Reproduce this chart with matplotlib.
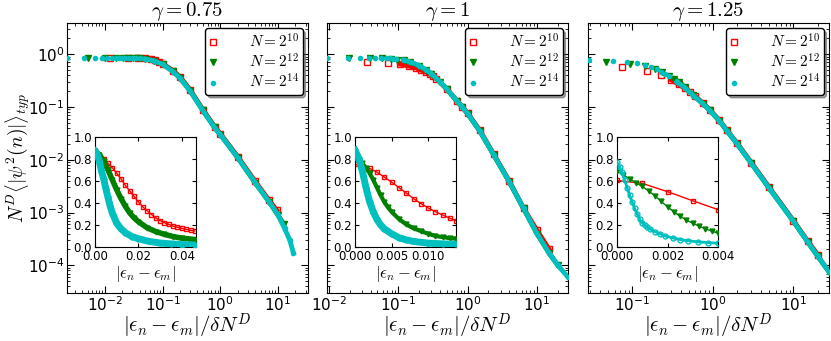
import numpy as np
import matplotlib
matplotlib.use("Agg")
import matplotlib.pyplot as plt

plt.rcParams['mathtext.fontset'] = 'cm'
plt.rcParams['font.family'] = 'DejaVu Sans'

gammas = ['0.75', '1', '1.25']
labels = [r'$N=2^{10}$', r'$N=2^{12}$', r'$N=2^{14}$']

# ---- main panels: |e_n - e_m| / dN^D  vs  N^D <|psi^2|>_typ ----
# gamma = 0.75
g075_red_x = [0.0124, 0.0248, 0.0372, 0.0496, 0.062, 0.0744, 0.0868, 0.1, 0.15, 0.2, 0.3, 0.5, 0.8, 1.0, 2.0, 4.0, 7.0, 9.5]
g075_red_y = [0.85, 0.85, 0.84, 0.83, 0.80, 0.77, 0.72, 0.66, 0.49, 0.37, 0.21, 0.088, 0.042, 0.031, 0.0115, 0.0039, 0.0017, 0.0011]
g075_green_x = [0.0051, 0.0102, 0.0153, 0.0204, 0.0255, 0.0306, 0.0357, 0.0408, 0.05, 0.07, 0.1, 0.15, 0.2, 0.3, 0.5, 0.8, 1.0, 2.0, 4.0, 7.0, 10.0, 12.5]
g075_green_y = [0.86, 0.86, 0.86, 0.85, 0.85, 0.84, 0.84, 0.83, 0.81, 0.75, 0.65, 0.48, 0.36, 0.205, 0.086, 0.041, 0.030, 0.011, 0.0037, 0.0016, 0.0009, 0.0006]
g075_cyan_x = [0.0022, 0.0044, 0.0066, 0.0088, 0.011, 0.0132, 0.0154, 0.0176, 0.0198, 0.022, 0.0264, 0.0308, 0.0352, 0.04, 0.05, 0.07, 0.1, 0.15, 0.2, 0.3, 0.5, 0.8, 1.0, 2.0, 4.0, 7.0, 10.0, 13.0, 16.0, 18.5]
g075_cyan_y = [0.86, 0.86, 0.86, 0.86, 0.86, 0.86, 0.86, 0.86, 0.855, 0.855, 0.85, 0.85, 0.84, 0.83, 0.81, 0.75, 0.64, 0.47, 0.35, 0.2, 0.085, 0.04, 0.03, 0.011, 0.0037, 0.0016, 0.0009, 0.0005, 0.0003, 0.00017]

# gamma = 1
g1_red_x = [0.0355, 0.071, 0.1065, 0.142, 0.1775, 0.213, 0.2485, 0.284, 0.3195, 0.355, 0.5, 0.7, 0.84, 1.0, 1.5, 2.37, 4.0, 6.4, 10.0, 15.0]
g1_red_y = [0.716, 0.686, 0.647, 0.60, 0.552, 0.50, 0.46, 0.42, 0.38, 0.345, 0.22, 0.13, 0.10, 0.076, 0.036, 0.0128, 0.0039, 0.0012, 0.00046, 0.0002]
g1_green_x = [0.0194, 0.0388, 0.0582, 0.0776, 0.097, 0.12, 0.15, 0.2, 0.25, 0.3, 0.4, 0.5, 0.7, 0.84, 1.0, 1.5, 2.37, 4.0, 6.4, 10.0, 15.0, 20.0]
g1_green_y = [0.85, 0.84, 0.83, 0.81, 0.79, 0.76, 0.70, 0.60, 0.50, 0.42, 0.30, 0.22, 0.13, 0.10, 0.075, 0.035, 0.0125, 0.0038, 0.0012, 0.0004, 0.00017, 0.0001]
g1_cyan_x = [0.0094, 0.0188, 0.0282, 0.0376, 0.047, 0.0564, 0.0658, 0.0752, 0.0846, 0.094, 0.12, 0.15, 0.2, 0.25, 0.3, 0.4, 0.5, 0.7, 0.84, 1.0, 1.5, 2.37, 4.0, 6.4, 10.0, 15.0, 20.0, 28.0]
g1_cyan_y = [0.86, 0.86, 0.86, 0.855, 0.85, 0.845, 0.84, 0.83, 0.82, 0.81, 0.77, 0.71, 0.61, 0.51, 0.43, 0.30, 0.22, 0.13, 0.10, 0.075, 0.035, 0.0125, 0.0038, 0.0012, 0.0004, 0.00017, 0.0001, 0.00006]

# gamma = 1.25
g125_red_x = [0.075, 0.15, 0.225, 0.3, 0.375, 0.45, 0.525, 0.6, 0.75, 0.92, 1.2, 1.5, 2.0, 3.0, 5.0, 10.0, 15.0, 20.0]
g125_red_y = [0.58, 0.48, 0.40, 0.33, 0.27, 0.224, 0.19, 0.16, 0.118, 0.087, 0.056, 0.036, 0.0205, 0.0088, 0.003, 0.0007, 0.00029, 0.00016]
g125_green_x = [0.047, 0.094, 0.141, 0.188, 0.235, 0.282, 0.329, 0.376, 0.45, 0.57, 0.75, 0.92, 1.2, 1.5, 2.0, 3.0, 5.0, 10.0, 15.0, 20.0, 27.7]
g125_green_y = [0.70, 0.64, 0.59, 0.52, 0.45, 0.39, 0.34, 0.30, 0.235, 0.167, 0.116, 0.086, 0.055, 0.035, 0.02, 0.0086, 0.0029, 0.00069, 0.00028, 0.00015, 0.000076]
g125_cyan_x = [0.0285, 0.057, 0.0855, 0.114, 0.1425, 0.171, 0.1995, 0.228, 0.2565, 0.285, 0.356, 0.45, 0.57, 0.75, 0.92, 1.2, 1.5, 2.0, 3.0, 5.0, 10.0, 15.0, 20.0, 27.7]
g125_cyan_y = [0.76, 0.74, 0.70, 0.67, 0.62, 0.57, 0.52, 0.46, 0.42, 0.38, 0.30, 0.23, 0.165, 0.115, 0.085, 0.055, 0.035, 0.02, 0.0085, 0.0029, 0.00068, 0.00028, 0.00015, 0.000075]

# ---- insets: |e_n - e_m| vs same quantity (linear) ----
in075_red_x = [0, 0.002, 0.004, 0.006, 0.008, 0.010, 0.012, 0.014, 0.016, 0.018, 0.020, 0.022, 0.024, 0.026, 0.028, 0.030, 0.032, 0.034, 0.036, 0.038, 0.040, 0.042, 0.044, 0.046]
in075_red_y = [0.85, 0.83, 0.80, 0.76, 0.72, 0.67, 0.62, 0.56, 0.51, 0.46, 0.41, 0.365, 0.33, 0.295, 0.265, 0.24, 0.22, 0.205, 0.19, 0.18, 0.17, 0.16, 0.152, 0.145]
in075_green_x = [0, 0.002, 0.004, 0.006, 0.008, 0.010, 0.012, 0.014, 0.016, 0.018, 0.020, 0.024, 0.028, 0.032, 0.036, 0.040, 0.046]
in075_green_y = [0.87, 0.84, 0.78, 0.70, 0.61, 0.52, 0.44, 0.37, 0.31, 0.265, 0.23, 0.175, 0.14, 0.115, 0.095, 0.08, 0.068]
in075_cyan_x = [0, 0.001, 0.002, 0.003, 0.004, 0.005, 0.006, 0.007, 0.008, 0.010, 0.012, 0.014, 0.017, 0.020, 0.025, 0.030, 0.035, 0.040, 0.046]
in075_cyan_y = [0.87, 0.84, 0.78, 0.69, 0.62, 0.53, 0.45, 0.37, 0.31, 0.215, 0.165, 0.13, 0.095, 0.075, 0.05, 0.036, 0.028, 0.022, 0.018]

in1_red_x = [0, 0.001, 0.002, 0.003, 0.004, 0.005, 0.006, 0.007, 0.008, 0.009, 0.010, 0.011, 0.012, 0.013, 0.0138]
in1_red_y = [0.75, 0.737, 0.715, 0.68, 0.635, 0.59, 0.54, 0.49, 0.44, 0.395, 0.355, 0.32, 0.29, 0.26, 0.24]
in1_green_x = [0, 0.0005, 0.001, 0.0015, 0.002, 0.0025, 0.003, 0.0035, 0.004, 0.0045, 0.005, 0.006, 0.007, 0.008, 0.009, 0.010, 0.011, 0.012, 0.013, 0.0138]
in1_green_y = [0.81, 0.79, 0.76, 0.72, 0.67, 0.61, 0.54, 0.47, 0.41, 0.36, 0.32, 0.255, 0.205, 0.17, 0.145, 0.12, 0.10, 0.09, 0.08, 0.075]
in1_cyan_x = [0, 0.0005, 0.001, 0.0015, 0.002, 0.0025, 0.003, 0.0035, 0.004, 0.005, 0.006, 0.007, 0.008, 0.010, 0.012, 0.0138]
in1_cyan_y = [0.88, 0.81, 0.69, 0.54, 0.41, 0.32, 0.25, 0.2, 0.165, 0.12, 0.085, 0.065, 0.05, 0.035, 0.028, 0.025]

in125_red_x = [0, 0.001, 0.002, 0.003, 0.004]
in125_red_y = [0.605, 0.578, 0.503, 0.42, 0.34]
in125_green_x = [0, 0.00025, 0.0005, 0.00075, 0.001, 0.00125, 0.0015, 0.00175, 0.002, 0.00225, 0.0025, 0.00275, 0.003, 0.00325, 0.0035, 0.00375, 0.004]
in125_green_y = [0.69, 0.655, 0.62, 0.585, 0.55, 0.51, 0.465, 0.415, 0.365, 0.32, 0.28, 0.245, 0.215, 0.19, 0.165, 0.145, 0.125]
in125_cyan_x = [0, 0.0001, 0.0002, 0.0003, 0.0004, 0.0005, 0.0006, 0.0007, 0.0008, 0.0009, 0.001, 0.0011, 0.0012, 0.0013, 0.0015, 0.0017, 0.0019, 0.0022, 0.0025, 0.0028, 0.0032, 0.0036, 0.004]
in125_cyan_y = [0.77, 0.73, 0.68, 0.61, 0.54, 0.47, 0.41, 0.35, 0.30, 0.25, 0.22, 0.20, 0.18, 0.165, 0.14, 0.12, 0.10, 0.083, 0.068, 0.057, 0.047, 0.04, 0.034]

main_data = [
    [(g075_red_x, g075_red_y), (g075_green_x, g075_green_y), (g075_cyan_x, g075_cyan_y)],
    [(g1_red_x, g1_red_y), (g1_green_x, g1_green_y), (g1_cyan_x, g1_cyan_y)],
    [(g125_red_x, g125_red_y), (g125_green_x, g125_green_y), (g125_cyan_x, g125_cyan_y)],
]
inset_data = [
    [(in075_red_x, in075_red_y), (in075_green_x, in075_green_y), (in075_cyan_x, in075_cyan_y)],
    [(in1_red_x, in1_red_y), (in1_green_x, in1_green_y), (in1_cyan_x, in1_cyan_y)],
    [(in125_red_x, in125_red_y), (in125_green_x, in125_green_y), (in125_cyan_x, in125_cyan_y)],
]
xlims = [(0.0022, 33), (0.0094, 28), (0.028, 27.7)]
inset_xlims = [(0, 0.0465), (0, 0.0138), (0, 0.004)]
inset_xticks = [[0, 0.02, 0.04], [0, 0.005, 0.010], [0, 0.002, 0.004]]
inset_xfmt = ['%.2f', '%.3f', '%.3f']
dense_from = [0.05, 0.1, 0.3]   # where the markers merge into a band

colors = ['r', 'g', 'c']
markers = ['s', 'v', 'o']
mfcs = ['none', 'g', 'c']
msizes = [4, 4, 3]
inset_lw = [[1, 4, 5], [1, 3, 5], [1, 1, 2]]
inset_mfc = [['none', 'g', 'c'], ['none', 'g', 'c'], ['none', 'g', 'none']]

fig = plt.figure(figsize=(8.31, 3.41), dpi=100, facecolor='white')
lefts = [0.0806, 0.3935, 0.7076]
inset_lefts = [0.1143, 0.4272, 0.7425]

for i in range(3):
    ax = fig.add_axes([lefts[i], 0.1408, 0.29, 0.7918])
    for j in range(3):
        x, y = main_data[i][j]
        x = np.array(x)
        y = np.array(y)
        band = x >= dense_from[i]
        ax.plot(x[band], y[band], '-', color=colors[j], lw=3.5, zorder=2 + j)
        ax.plot(x, y, linestyle='none', marker=markers[j], color=colors[j],
                mfc=mfcs[j], mec=colors[j], ms=msizes[j], mew=1, label=labels[j], zorder=2 + j)
    ax.set_xscale('log')
    ax.set_yscale('log')
    ax.set_xlim(*xlims[i])
    ax.set_ylim(3e-5, 3.9)
    ax.tick_params(which='both', direction='in', top=True, right=True, labelsize=11)
    ax.tick_params(which='major', length=5, pad=2)
    ax.tick_params(which='minor', length=2.5)
    if i > 0:
        ax.set_yticklabels([])
    else:
        ax.set_ylabel(r'$N^D\left\langle|\psi^2(n)|\right\rangle_{typ}$', fontsize=14)
        ax.yaxis.set_label_coords(-0.145, 0.5)
    ax.set_xlabel(r'$|\epsilon_n-\epsilon_m|/\delta N^D$', fontsize=15)
    ax.xaxis.set_label_coords(0.5, -0.07)
    ax.set_title(r'$\gamma=' + gammas[i] + '$', fontsize=15, pad=3)
    leg = ax.legend(loc='upper right', numpoints=1, fontsize=11, fancybox=True, shadow=True,
                    framealpha=1, edgecolor='black', handlelength=0.6, borderpad=0.25,
                    labelspacing=0.15, handletextpad=2.0, borderaxespad=0.35)
    leg.get_frame().set_linewidth(1)

    ins = fig.add_axes([inset_lefts[i], 0.2757, 0.1215, 0.3226])
    for j in range(3):
        x, y = inset_data[i][j]
        ins.plot(x, y, '-', color=colors[j], lw=inset_lw[i][j], zorder=2 + j)
        ins.plot(x, y, linestyle='none', marker=markers[j], color=colors[j],
                 mfc=inset_mfc[i][j], mec=colors[j], ms=3.5, mew=1, zorder=2 + j)
    ins.set_xlim(*inset_xlims[i])
    ins.set_ylim(0, 1)
    ins.set_xticks(inset_xticks[i])
    ins.set_xticklabels([inset_xfmt[i] % t for t in inset_xticks[i]])
    ins.set_yticks([0, 0.2, 0.4, 0.6, 0.8, 1.0])
    ins.set_yticklabels(['0.0', '0.2', '0.4', '0.6', '0.8', '1.0'])
    ins.tick_params(direction='in', top=True, right=True, labelsize=8.5, length=3, pad=2)
    ins.set_xlabel(r'$|\epsilon_n-\epsilon_m|$', fontsize=12, labelpad=1)

fig.savefig('out.png', dpi=100, facecolor='white')
